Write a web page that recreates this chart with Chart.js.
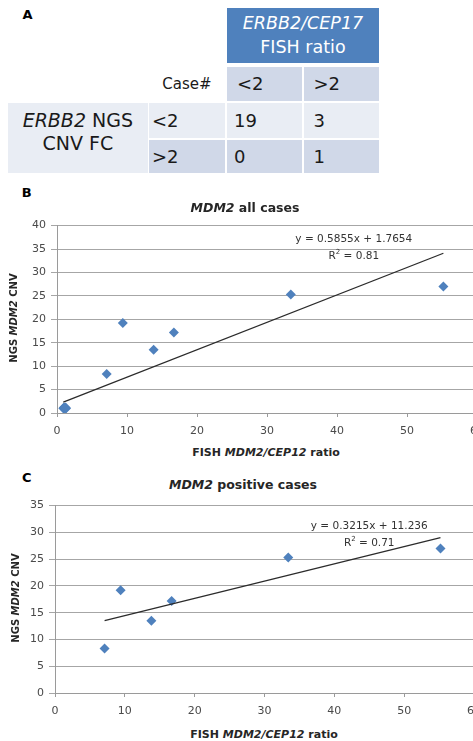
<!DOCTYPE html>
<html lang="en">
<head>
<meta charset="UTF-8">
<title>ERBB2 and MDM2: NGS vs FISH</title>
<script src="https://cdn.jsdelivr.net/npm/chart.js"></script>
<style>
  html, body { margin: 0; padding: 0; background: #fff; overflow: hidden; }
  body { width: 473px; height: 741px; position: relative; font-family: "DejaVu Sans", sans-serif; color: #262626; }
  .txt { position: absolute; white-space: nowrap; line-height: 1; transform: translate(-50%, -50%); }
  .cell { position: absolute; box-sizing: border-box; display: flex; align-items: center; white-space: nowrap; }
  canvas { position: absolute; left: 0; }
</style>
</head>
<body>
<div id="table"></div>
<canvas id="allCases" width="500" height="229" style="top:214px"></canvas>
<canvas id="posCases" width="497" height="229" style="top:494px"></canvas>

<script>
// ---- panel A: contingency table ----
const fishHeader = ['ERBB2/CEP17', 'FISH ratio'];
const fishLevels = ['<2', '>2'];
const ngsLabel = ['ERBB2', ' NGS', 'CNV FC'];
const ngsLevels = ['<2', '>2'];
const caseCounts = [[19, 3], [0, 1]];

// ---- panels B and C: MDM2 scatter ----
const posFish = [7.1, 9.4, 13.8, 16.7, 33.4, 55.2];
const posNgs = [8.3, 19.2, 13.5, 17.2, 25.3, 27.0];
const negFish = [0.9, 1.0, 1.1, 1.2, 1.3, 1.1, 1.2];
const negNgs = [1.0, 1.2, 0.9, 1.1, 1.0, 0.8, 1.2];

const trendAllX = [0.9, 55.2];
const trendAllY = [2.3, 34.1];
const trendPosX = [7.1, 55.2];
const trendPosY = [13.5, 29.0];

const eqAll = 'y = 0.5855x + 1.7654';
const r2All = '0.81';
const eqPos = 'y = 0.3215x + 11.236';
const r2Pos = '0.71';

const BLUE = '#4f81bd';
const BAND1 = '#d0d8e8';
const BAND2 = '#e9edf4';

// build the table out of absolutely placed cells
const tbl = document.getElementById('table');
function cell(x, y, w, h, bg, html, opts = {}) {
  const d = document.createElement('div');
  d.className = 'cell';
  Object.assign(d.style, {
    left: x + 'px', top: y + 'px', width: w + 'px', height: h + 'px',
    background: bg, fontSize: (opts.size || 18) + 'px', color: opts.color || '#1a1a1a',
    justifyContent: opts.center ? 'center' : 'flex-start',
    paddingLeft: (opts.pad || 0) + 'px', textAlign: 'center', lineHeight: opts.lh || 'normal',
    paddingBottom: (opts.padB || 0) + 'px'
  });
  d.innerHTML = html;
  tbl.appendChild(d);
}
const colX = [8, 149, 227, 303.5];
const colW = [139.7, 76, 75, 75.5];
const colPad = [0, 3, 7, 10];
const rowY = [8.3, 66.7, 102.7, 140];
const rowH = [54.4, 34.3, 35.6, 32.7];

cell(colX[2], rowY[0], 152, rowH[0], BLUE,
  '<div><i>' + fishHeader[0] + '</i><br>' + fishHeader[1] + '</div>',
  { size: 17.5, color: '#fff', center: true, lh: '24px' });
cell(colX[1], rowY[1], colW[1], rowH[1], '#fff', 'Case#', { size: 15, center: true });
fishLevels.forEach((lv, j) => {
  cell(colX[2 + j], rowY[1], colW[2 + j], rowH[1], BAND1, lv, { pad: 10 });
});
cell(colX[0], rowY[2], colW[0], rowY[3] + rowH[3] - rowY[2], BAND2,
  '<div><i>' + ngsLabel[0] + '</i>' + ngsLabel[1] + '<br>' + ngsLabel[2] + '</div>',
  { size: 19, center: true, lh: '23px', padB: 12 });
ngsLevels.forEach((lv, i) => {
  const bg = i === 0 ? BAND2 : BAND1;
  cell(colX[1], rowY[2 + i], colW[1], rowH[2 + i], bg, lv, { pad: colPad[1] });
  caseCounts[i].forEach((n, j) => {
    cell(colX[2 + j], rowY[2 + i], colW[2 + j], rowH[2 + i], bg, String(n), { pad: colPad[2 + j] });
  });
});

// text overlays (titles, panel letters, axis titles)
function label(x, y, html, size, extra = '') {
  const d = document.createElement('div');
  d.className = 'txt';
  d.style.cssText += `left:${x}px;top:${y}px;font-size:${size}px;${extra}`;
  d.innerHTML = html;
  document.body.appendChild(d);
}
label(27.5, 14, 'A', 13, 'font-weight:bold;color:#000');
label(26.7, 192, 'B', 13, 'font-weight:bold;color:#000');
label(26.7, 477, 'C', 13, 'font-weight:bold;color:#000');

label(245, 208, '<i>MDM2</i> all cases', 12.5, 'font-weight:bold');
label(266, 451.7, 'FISH <i>MDM2/CEP12</i> ratio', 11, 'font-weight:bold');
label(14, 317.5, 'NGS <i>MDM2</i> CNV', 10, 'font-weight:bold;transform:translate(-50%,-50%) rotate(-90deg)');

label(243, 485, '<i>MDM2</i> positive cases', 12.5, 'font-weight:bold');
label(264, 734, 'FISH <i>MDM2/CEP12</i> ratio', 11, 'font-weight:bold');
label(16, 598, 'NGS <i>MDM2</i> CNV', 10, 'font-weight:bold;transform:translate(-50%,-50%) rotate(-90deg)');

// equation + R² drawn at data positions
const eqPlugin = {
  id: 'eqText',
  afterDatasetsDraw(chart, args, o) {
    const { ctx, scales: { x, y } } = chart;
    const cx = x.getPixelForValue(o.x);
    ctx.save();
    ctx.fillStyle = '#333';
    ctx.textBaseline = 'middle';
    ctx.font = '10.5px "DejaVu Sans"';
    ctx.textAlign = 'center';
    ctx.fillText(o.eq, cx, y.getPixelForValue(o.yEq));

    const cy = y.getPixelForValue(o.yR2);
    const tail = ' = ' + o.r2;
    const wR = ctx.measureText('R').width;
    const wT = ctx.measureText(tail).width;
    ctx.font = '7px "DejaVu Sans"';
    const wS = ctx.measureText('2').width;
    let left = cx - (wR + wS + wT) / 2;
    ctx.textAlign = 'left';
    ctx.font = '10.5px "DejaVu Sans"';
    ctx.fillText('R', left, cy);
    ctx.font = '7px "DejaVu Sans"';
    ctx.fillText('2', left + wR, cy - 4);
    ctx.font = '10.5px "DejaVu Sans"';
    ctx.fillText(tail, left + wR + wS, cy);
    ctx.restore();
  }
};

function pts(xs, ys) {
  return xs.map((v, i) => ({ x: v, y: ys[i] }));
}

function makeScatter(id, opts) {
  const tickFont = { family: '"DejaVu Sans"', size: 11 };
  return new Chart(document.getElementById(id), {
    type: 'scatter',
    data: {
      datasets: [
        {
          data: pts(opts.lineX, opts.lineY),
          showLine: true, borderColor: '#2b2b2b', borderWidth: 1.3,
          pointRadius: 0, pointHoverRadius: 0, fill: false
        },
        ...opts.points.map(p => ({
          data: p,
          pointStyle: 'rectRot', pointRadius: 5, pointHoverRadius: 5,
          backgroundColor: BLUE, borderColor: BLUE, borderWidth: 0
        }))
      ]
    },
    options: {
      responsive: false,
      animation: false,
      devicePixelRatio: 1,
      layout: { padding: { top: 9, right: opts.padRight, left: 0, bottom: 0 } },
      plugins: {
        legend: { display: false },
        tooltip: { enabled: false },
        eqText: opts.eq
      },
      scales: {
        x: {
          type: 'linear', min: 0, max: 60,
          ticks: { stepSize: 10, font: tickFont, color: '#4a4a4a', padding: 8 },
          grid: { drawOnChartArea: false, drawTicks: true, tickLength: 4, color: '#9a9a9a' },
          border: { color: '#9a9a9a' },
          afterFit: s => { s.height = 30; }
        },
        y: {
          min: 0, max: opts.yMax,
          ticks: { stepSize: 5, font: tickFont, color: '#4a4a4a', padding: 5 },
          grid: { color: '#a6a6a6', tickLength: 6 },
          border: { color: '#9a9a9a' },
          afterFit: s => { s.width = opts.yWidth; }
        }
      }
    },
    plugins: [eqPlugin]
  });
}

makeScatter('allCases', {
  lineX: trendAllX, lineY: trendAllY,
  points: [pts(posFish, posNgs), pts(negFish, negNgs)],
  yMax: 40, yWidth: 57, padRight: 23,
  eq: { eq: eqAll, r2: r2All, x: 42.4, yEq: 37.0, yR2: 33.5 }
});

makeScatter('posCases', {
  lineX: trendPosX, lineY: trendPosY,
  points: [pts(posFish, posNgs)],
  yMax: 35, yWidth: 55, padRight: 23,
  eq: { eq: eqPos, r2: r2Pos, x: 45.0, yEq: 31.1, yR2: 28.0 }
});
</script>
</body>
</html>
